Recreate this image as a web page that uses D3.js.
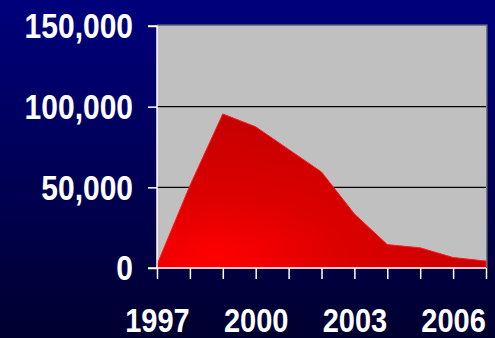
<!DOCTYPE html>
<html>
<head>
<meta charset="utf-8">
<script src="https://cdn.jsdelivr.net/npm/d3@7"></script>
<style>
  html, body { margin: 0; padding: 0; background: #000050; }
  svg { display: block; }
  text { font-family: "Liberation Sans", Arial, sans-serif; font-weight: bold; fill: #ffffff; }
</style>
</head>
<body>
<svg id="chart" width="495" height="338"></svg>
<script>
// Yearly counts, 1997–2007
const years = [1997, 1998, 1999, 2000, 2001, 2002, 2003, 2004, 2005, 2006, 2007];
const counts = [2000, 51000, 95500, 87500, 73500, 59500, 33500, 14500, 12500, 6500, 4300];
const yTicks = [0, 50000, 100000, 150000];
const xLabelYears = [1997, 2000, 2003, 2006];

const W = 495, H = 338;
const plot = { left: 157, right: 486, top: 26, bottom: 268 };

const svg = d3.select("#chart");
const defs = svg.append("defs");

// Slide background: navy fading to near-black
const bg = defs.append("linearGradient").attr("id", "bg")
  .attr("x1", 0).attr("y1", 0).attr("x2", 0).attr("y2", 1);
bg.append("stop").attr("offset", "0%").attr("stop-color", "#00007c");
bg.append("stop").attr("offset", "100%").attr("stop-color", "#000030");

// Area fill: bright red glow near the lower left, deeper red elsewhere
const fill = defs.append("radialGradient").attr("id", "areaFill")
  .attr("cx", "18%").attr("cy", "92%").attr("r", "85%")
  .attr("fx", "18%").attr("fy", "92%");
fill.append("stop").attr("offset", "0%").attr("stop-color", "#ff0000");
fill.append("stop").attr("offset", "45%").attr("stop-color", "#dc0000");
fill.append("stop").attr("offset", "100%").attr("stop-color", "#c80000");

svg.append("rect").attr("width", W).attr("height", H).attr("fill", "url(#bg)");

const x = d3.scalePoint().domain(years).range([plot.left, plot.right]);
const y = d3.scaleLinear().domain([0, 150000]).range([plot.bottom, plot.top]);

// Plot area with shadowed top/right edge
svg.append("rect")
  .attr("x", plot.left).attr("y", plot.top - 1.5)
  .attr("width", plot.right - plot.left + 1.5).attr("height", plot.bottom - plot.top + 1.5)
  .attr("fill", "#7a7a86");
svg.append("rect")
  .attr("x", plot.left).attr("y", plot.top)
  .attr("width", plot.right - plot.left).attr("height", plot.bottom - plot.top)
  .attr("fill", "#c0c0c0");

// Horizontal gridlines
svg.append("g").selectAll("line")
  .data(yTicks.filter(d => d > 0 && d < 150000))
  .join("line")
  .attr("x1", plot.left).attr("x2", plot.right)
  .attr("y1", d => y(d)).attr("y2", d => y(d))
  .attr("stroke", "#000000").attr("stroke-width", 1.3);

// Area
const area = d3.area()
  .x((d, i) => x(years[i]))
  .y0(y(0))
  .y1(d => y(d));
svg.append("path")
  .datum(counts)
  .attr("d", area)
  .attr("fill", "url(#areaFill)")
  .attr("stroke", "#ff1a1a")
  .attr("stroke-width", 1)
  .attr("stroke-linejoin", "round");

// Y axis
const yAxis = d3.axisLeft(y).tickValues(yTicks).tickSize(9).tickPadding(15)
  .tickFormat(d3.format(","));
const gy = svg.append("g").attr("transform", `translate(${plot.left},0)`).call(yAxis);
gy.select(".domain").attr("stroke", "#ffffff").attr("stroke-width", 1.5)
  .attr("d", `M-9,${y(150000)}H0V${y(0)}`);
gy.selectAll(".tick line").attr("stroke", "#ffffff").attr("stroke-width", 1.5);
gy.selectAll(".tick text")
  .attr("font-size", 30).attr("fill", "#ffffff")
  .attr("dy", null).attr("dominant-baseline", "central")
  .attr("transform", "scale(1,1.16)");

// X axis: tick at every year, labels every third year
const xAxis = d3.axisBottom(x).tickSize(11).tickPadding(18)
  .tickFormat(d => xLabelYears.includes(d) ? String(d) : "");
const gx = svg.append("g").attr("transform", `translate(0,${plot.bottom})`).call(xAxis);
gx.select(".domain").attr("stroke", "#ffffff").attr("stroke-width", 1.5)
  .attr("d", `M${plot.left - 9},0H${plot.right}`);
gx.selectAll(".tick line").attr("stroke", "#ffffff").attr("stroke-width", 1.5);
gx.selectAll(".tick text")
  .attr("font-size", 29).attr("fill", "#ffffff")
  .attr("dy", null).attr("y", 0).attr("dominant-baseline", "central")
  .attr("transform", "translate(0,53) scale(1,1.16)");
</script>
</body>
</html>
